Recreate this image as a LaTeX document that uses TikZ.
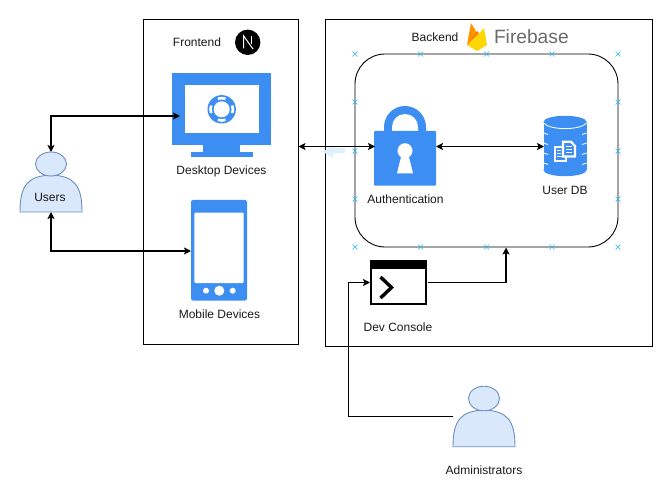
\documentclass[tikz,border=0pt]{standalone}
\usepackage{fontspec}
\setmainfont{Liberation Sans}
\usetikzlibrary{arrows.meta}
\definecolor{iconblue}{RGB}{61,142,242}
\definecolor{personfill}{RGB}{218,232,252}
\definecolor{personline}{RGB}{108,142,191}
\definecolor{markblue}{RGB}{41,182,242}
\definecolor{ghostblue}{RGB}{222,240,252}
\tikzset{
  box/.style={draw=black,line width=0.9pt},
  slot/.style={inner sep=0pt,outer sep=0pt},
  label/.style={inner sep=0pt,font=\fontsize{12}{14}\selectfont,text=black!90},
  link/.style={line width=1.3pt,>={Stealth[length=7pt,width=7pt,inset=1.5pt]}},
  person/.style={fill=personfill,draw=personline,line width=0.9pt}
}
\begin{document}
\begin{tikzpicture}[x=1pt,y=-1pt]
\useasboundingbox (0,0) rectangle (668,486);

% Draw outer boxes
\node[box,slot,minimum width=155pt,minimum height=325pt] (frontend) at (221,182) {};
\node[box,slot,minimum width=327pt,minimum height=327pt] (backend) at (489,183) {};
\node[box,slot,minimum width=263pt,minimum height=193pt,rounded corners=30pt] (core) at (486.5,150.5) {};

% Connection marks on the inner box
\foreach \px in {355,420.5,486.5,552,618}
  \foreach \py in {54,247}
    \draw[markblue,line width=0.6pt] (\px-2.5,\py-2.5) -- (\px+2.5,\py+2.5) (\px-2.5,\py+2.5) -- (\px+2.5,\py-2.5);
\foreach \px in {355,618}
  \foreach \py in {102,151,199}
    \draw[markblue,line width=0.6pt] (\px-2.5,\py-2.5) -- (\px+2.5,\py+2.5) (\px-2.5,\py+2.5) -- (\px+2.5,\py-2.5);

% Faint arrow behind the link
\fill[ghostblue] (323,152) -- (333,145) -- (333,148) -- (345,148) -- (345,153) -- (333,153) -- (333,158) -- cycle;

% Next logo
\fill[black] (247.7,42.3) circle [radius=12.7];
\draw[white,line width=1pt] (243.7,48.5) -- (243.7,36) -- (253,49);
\draw[white,line width=1pt] (251.5,36) -- (251.5,44);

% Firebase logo
\fill[orange!85!yellow] (467,45) -- (471,23) -- (477,33) -- cycle;
\fill[orange!90!red] (467,45) -- (477.5,31) -- (482,40) -- cycle;
\fill[yellow!75!orange] (467,45) -- (484,28) -- (487,45) -- (477,51) -- cycle;
\node[slot,font=\fontsize{19.2}{22}\selectfont,text=black!58,anchor=west] (firebase) at (494,37) {Firebase};

% Desktop icon
\node[slot,minimum width=83pt,minimum height=86pt] (desktop) at (221.5,116) {};
\fill[iconblue] (172.3,73.3) rectangle (271,145.3);
\fill[iconblue] (203.3,145) rectangle (240,152);
\fill[iconblue] (191,151.7) rectangle (252.7,157.3);
\fill[white] (184.7,85.3) rectangle (259,133.3);
\fill[iconblue] (221.7,109.3) circle [radius=14.2];
\fill[white] (221.7,109.3) circle [radius=8];
\foreach \ang in {0,90,180,270}
  \draw[white,line width=2.6pt] (221.7,109.3) ++(\ang-20:11.2) arc [start angle=\ang-20,end angle=\ang+20,radius=11.2];

% Phone icon
\node[slot,minimum width=56pt,minimum height=102pt] (phone) at (219,251) {};
\fill[iconblue,rounded corners=2pt] (191,200) rectangle (247,300.5);
\fill[white,rounded corners=1pt] (194.3,212.7) rectangle (243.7,283);
\fill[white] (206,290.7) circle [radius=3];
\fill[white] (219.3,290.7) circle [radius=5];
\fill[white] (232.7,290.7) circle [radius=3];

% Lock icon
\node[slot,minimum width=61pt,minimum height=79pt] (auth) at (405.5,146.5) {};
\fill[iconblue] (384,131) -- (384,127) arc [start angle=180,end angle=0,x radius=21,y radius=-21] -- (426,131) -- cycle;
\fill[white] (392,131) -- (392,127) arc [start angle=180,end angle=0,x radius=13,y radius=-13] -- (418,131) -- cycle;
\fill[iconblue,rounded corners=1pt] (374,131) rectangle (436,185.7);
\fill[white] (405,150.7) circle [radius=7.5];
\fill[white] (401.5,155) -- (397,173.3) -- (413,173.3) -- (408.5,155) -- cycle;

% Database icon
\node[slot,minimum width=43pt,minimum height=61pt] (userdb) at (565.5,146.5) {};
\fill[iconblue] (543.5,122) rectangle (586.7,170);
\fill[iconblue] (565,122) ellipse [x radius=21.6,y radius=6.2];
\fill[iconblue] (565,170) ellipse [x radius=21.6,y radius=6.2];
\draw[white,line width=0.8pt] (543.5,123) .. controls (550,130.5) and (580,130.5) .. (586.7,123);
\foreach \py in {133,143,153,163}
  \draw[white,line width=0.8pt] (543.5,\py) -- (548,\py+1.5) (586.7,\py) -- (582,\py+1.5);
\draw[white,fill=iconblue,line width=2.2pt] (555,147) rectangle (566,161);
\draw[white,fill=iconblue,line width=2.2pt] (563,141.7) -- (571,141.7) -- (575,146) -- (575,156.5) -- (563,156.5) -- cycle;
\draw[white,line width=1pt] (566,147) -- (572,147) (566,150) -- (572,150) (566,153) -- (572,153);
\draw[white,line width=1pt] (557,151) -- (561,151) (557,154) -- (561,154) (557,157) -- (564,157);

% Console icon
\node[draw=black,line width=2.2pt,slot,minimum width=55pt,minimum height=43pt] (console) at (398.5,282.5) {};
\fill[black] (370,260) rectangle (427,269);
\draw[black,line width=3.4pt] (380.5,277) -- (391.5,287.5) -- (380.5,298);

% Draw people
\node[slot,minimum width=62pt,minimum height=60pt] (users) at (51,182) {};
\draw[person] (20,212) .. controls (20,185) and (28,176) .. (51,175) .. controls (74,176) and (82,185) .. (82,212) -- cycle;
\draw[person] (51,164) ellipse [x radius=15.5,y radius=12];
\node[slot,minimum width=62pt,minimum height=61pt] (admins) at (484,416.5) {};
\draw[person] (453,446.7) .. controls (453,420) and (461,411) .. (484,410) .. controls (507,411) and (515,420) .. (515,446.7) -- cycle;
\draw[person] (484,398.5) ellipse [x radius=15.5,y radius=12.3];

% Add labels
\node[label] (frontlabel) at (197,42) {Frontend};
\node[label] (backlabel) at (435,37) {Backend};
\node[label] (desktoplabel) at (221.5,171.5) {Desktop Devices};
\node[label] (phonelabel) at (219.5,314) {Mobile Devices};
\node[label] (authlabel) at (405.5,199) {Authentication};
\node[label] (dblabel) at (565,190) {User DB};
\node[label] (consolelabel) at (398,327) {Dev Console};
\node[label] (userslabel) at (50,197) {Users};
\node[label] (adminlabel) at (484,470) {Administrators};

% Draw arrows
\coordinate (frontport) at (frontend.east |- auth.west);
\coordinate (coreport) at (506,247.5);
\coordinate (adminbend) at (348.5,416.5);
\draw[link,<->] (users.north) |- (desktop.west);
\draw[link,<->] (users.south) |- (phone.west);
\draw[link,<->,line width=1.6pt] (frontport) -- (auth.west);
\draw[link,<->,line width=1.6pt] (auth.east) -- (userdb.west);
\draw[link,->,shorten <=2pt] (console.east) -| (coreport);
\draw[link,->,shorten >=1pt] (admins.west) -- (adminbend) |- (console.west);
\end{tikzpicture}
\end{document}
